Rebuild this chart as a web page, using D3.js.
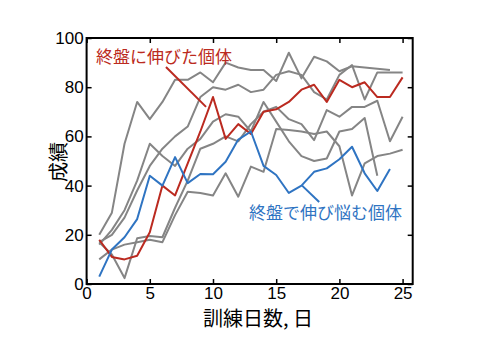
<!DOCTYPE html>
<html><head><meta charset="utf-8">
<script src="https://cdn.jsdelivr.net/npm/d3@7"></script>
<style>body{margin:0;background:#fff}svg{display:block}</style>
</head><body>
<svg id="chart" width="490" height="352"></svg>
<script>
// ---- data ----
const xTicks = [0, 5, 10, 15, 20, 25];
const yTicks = [0, 20, 40, 60, 80, 100];
const grayA = [20,29,57,74,67,74,83,83,86,82,90,88,87,87,82.5,94,83.6,92.4,90.5,86.5,88.5,88,87.5,87];
const grayB = [17,20,27,38,48,55,60,64,76,80,79,81,78,79,85,86.5,85,78,75,85,89,75,86,86,86];
const grayC = [17,12,2.4,18.6,19.5,19,31,42,55,57,60,58,65,70,72,67,65,58.5,70.7,68,72,72,74.5,58,68];
const grayD = [10,14,16,17,18,17,28,37.5,37,36,45,35.5,47.7,45.6,63,62.6,62,61,62,56,36,49,52,53,54.6];
const grayE = [16,22,30,42,57,52,48,55,59,66,69,68,62,74,66,58,52,50,51,62,63,67.5,44];
const redSeries  = [18,11,10,11.5,21,40,36,49,62,76,59,65,61,70,71,74,79,81,74,83,80,82,76,76,84];
const blueSeries = [3,14,19,26.4,44,40,51.6,41,44.7,44.6,49.7,58.7,62,48,44.3,37,40,45.6,47,50.7,55.8,45,37.8,46.7];
const redLabel = "終盤に伸びた個体";
const blueLabel = "終盤で伸び悩む個体";
const xLabel = "訓練日数, 日";
const yLabel = "成績";
const redPointer = [[6.28, 88.2], [9.45, 72]];
const bluePointer = [[17.05, 40], [18.4, 33.3]];

// ---- layout ----
const svg = d3.select("#chart");
const L = 86.6, R = 412.7, T = 38, B = 284;
const x = d3.scaleLinear().domain([0, 25.8]).range([L, R]);
const y = d3.scaleLinear().domain([0, 100]).range([B, T]);
const GRAY = "#858585", RED = "#bb2a20", BLUE = "#2f74c2";
const numFont = "Liberation Sans, Arial, sans-serif";
const cjkFont = "Noto Sans CJK JP, sans-serif";

svg.append("rect").attr("width", 490).attr("height", 352).attr("fill", "#fff");

const line = d3.line().x((d, i) => x(i + 1)).y(d => y(d));
const grays = [grayA, grayB, grayC, grayD, grayE];
svg.append("g").selectAll("path").data(grays).join("path")
  .attr("d", line).attr("fill", "none").attr("stroke", GRAY)
  .attr("stroke-width", 2).attr("stroke-linejoin", "round");

svg.append("path").datum(redSeries).attr("d", line).attr("fill", "none")
  .attr("stroke", RED).attr("stroke-width", 2).attr("stroke-linejoin", "round");
svg.append("path").datum(blueSeries).attr("d", line).attr("fill", "none")
  .attr("stroke", BLUE).attr("stroke-width", 2).attr("stroke-linejoin", "round");

const pl = d3.line().x(d => x(d[0])).y(d => y(d[1]));
svg.append("path").datum(redPointer).attr("d", pl).attr("stroke", RED).attr("stroke-width", 2).attr("fill", "none");
svg.append("path").datum(bluePointer).attr("d", pl).attr("stroke", BLUE).attr("stroke-width", 2).attr("fill", "none");

// axes
function styleAxis(g) {
  g.select(".domain").remove();
  g.selectAll(".tick line").attr("stroke", "#000").attr("stroke-width", 1.5);
  g.selectAll("text").attr("font-family", numFont).attr("font-size", 17).attr("fill", "#000");
}
svg.append("g").attr("transform", `translate(0,${B})`)
  .call(d3.axisBottom(x).tickValues(xTicks).tickSize(-5).tickPadding(3)).call(styleAxis);
svg.append("g").attr("transform", `translate(${L},0)`)
  .call(d3.axisLeft(y).tickValues(yTicks).tickSize(-5).tickPadding(3)).call(styleAxis);
svg.append("g").attr("transform", `translate(0,${T})`)
  .call(d3.axisTop(x).tickValues(xTicks).tickSize(-5).tickFormat("")).call(styleAxis);
svg.append("g").attr("transform", `translate(${R},0)`)
  .call(d3.axisRight(y).tickValues(yTicks).tickSize(-5).tickFormat("")).call(styleAxis);

svg.append("rect").attr("x", L).attr("y", T).attr("width", R - L).attr("height", B - T)
  .attr("fill", "none").attr("stroke", "#000").attr("stroke-width", 2);

// labels
svg.append("text").attr("x", 258).attr("y", 326).attr("text-anchor", "middle")
  .attr("font-family", cjkFont).attr("font-size", 20).attr("fill", "#000").text(xLabel);
svg.append("text").attr("transform", "translate(66,162) rotate(-90)").attr("text-anchor", "middle")
  .attr("font-family", cjkFont).attr("font-size", 20).attr("fill", "#000").text(yLabel);

svg.append("text").attr("x", 96).attr("y", 62.5)
  .attr("font-family", cjkFont).attr("font-size", 17).attr("fill", RED).text(redLabel);
svg.append("text").attr("x", 249).attr("y", 219)
  .attr("font-family", cjkFont).attr("font-size", 17).attr("fill", BLUE).text(blueLabel);
</script>
</body></html>
